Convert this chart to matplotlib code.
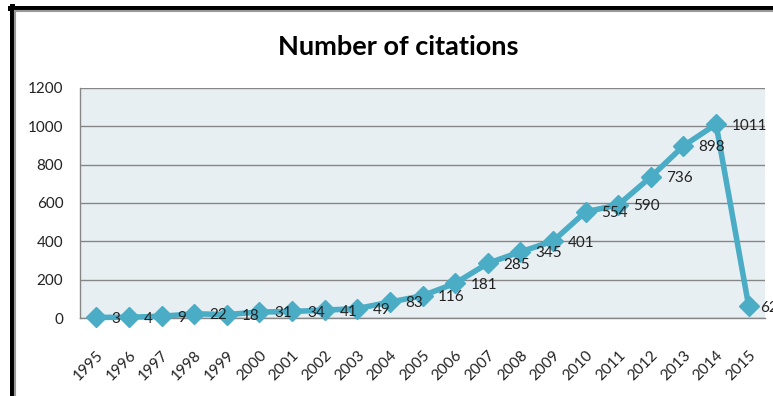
import matplotlib.pyplot as plt
from matplotlib.lines import Line2D

# citations per year
years = [str(y) for y in range(1995, 2016)]
citations = [3, 4, 9, 22, 18, 31, 34, 41, 49, 83, 116, 181, 285, 345, 401, 554, 590, 736, 898, 1011, 62]

line_color = "#4BACC6"
plt.rcParams['font.family'] = ['Lato', 'DejaVu Sans']

fig = plt.figure(figsize=(7.73, 3.96), dpi=100)
ax = fig.add_axes([80 / 773, 1 - 318 / 396, 685 / 773, 230 / 396])
ax.set_facecolor("#E8EFF3")

x = list(range(len(years)))
ax.plot(x, citations, color=line_color, linewidth=4, marker="D", markersize=10,
        markeredgecolor=line_color, zorder=3, clip_on=False)

for xi, v in zip(x, citations):
    # last label sits against the right edge, pull it in a little
    dx = 8 if xi == x[-1] else 11
    ax.annotate(str(v), (xi, v), xytext=(dx, -1), textcoords="offset points",
                ha="left", va="center", fontsize=11, color="#222222", zorder=4,
                annotation_clip=False)

ax.set_xlim(-0.5, len(years) - 0.5)
ax.set_ylim(0, 1200)
ax.set_yticks(range(0, 1201, 200))
ax.set_xticks(x)
ax.set_xticklabels(years, rotation=45, ha="right", rotation_mode="anchor")
ax.tick_params(axis="both", length=0, labelsize=11, colors="#222222")
ax.tick_params(axis="x", pad=22)
ax.tick_params(axis="y", pad=12)

ax.grid(axis="y", color="#868686", linewidth=1)
ax.set_axisbelow(True)
for side in ["top", "right"]:
    ax.spines[side].set_visible(False)
for side in ["left", "bottom"]:
    ax.spines[side].set_color("#868686")
    ax.spines[side].set_linewidth(1)

fig.text(398 / 773, 1 - 47 / 396, "Number of citations", ha="center", va="center",
         fontsize=19.5, fontweight="bold", color="black")

# outer frame: thick black edge with a thin gray inner line
fig.add_artist(Line2D([11.5 / 773, 11.5 / 773], [0, 1 - 6 / 396], color="black",
                      linewidth=3.6, transform=fig.transFigure))
fig.add_artist(Line2D([9.5 / 773, 1], [1 - 8 / 396, 1 - 8 / 396], color="black",
                      linewidth=3.6, transform=fig.transFigure))
fig.add_artist(Line2D([15 / 773, 15 / 773], [0, 1 - 10.5 / 396], color="#999999",
                      linewidth=1.5, transform=fig.transFigure))
fig.add_artist(Line2D([14.5 / 773, 1], [1 - 11 / 396, 1 - 11 / 396], color="#999999",
                      linewidth=1.5, transform=fig.transFigure))

fig.savefig("out.png", dpi=100)
